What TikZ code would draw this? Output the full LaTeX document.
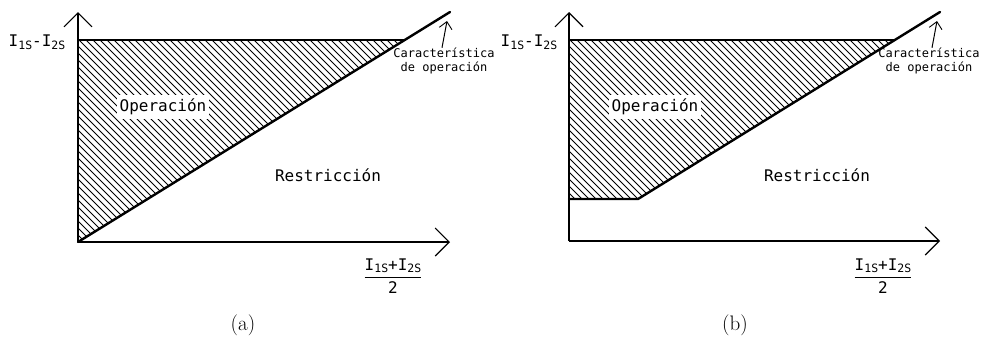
\documentclass[tikz,border=0pt]{standalone}
\usepackage{fontspec}
\usetikzlibrary{arrows.meta}
\newfontfamily\monofont{DejaVu Sans Mono}
\newfontfamily\capfont{Latin Modern Roman}
\newcommand{\sbs}[1]{\raisebox{-2.5pt}{\fontsize{11.5}{11.5}\selectfont #1}}
\tikzset{
  axis/.style={line width=1.3pt, -{Straight Barb[length=14pt,width=28pt,line width=1.1pt]}},
  boundary/.style={line width=2.4pt, line cap=round, line join=round},
  topline/.style={line width=1.3pt},
  hatch/.style={line width=0.85pt},
  lbl/.style={font=\monofont\fontsize{16}{18}\selectfont, inner sep=0pt},
  opbox/.style={font=\monofont\fontsize{16}{18}\selectfont, fill=white, inner xsep=3pt, inner ysep=4pt},
  small/.style={font=\monofont\fontsize{12}{14}\selectfont, align=center, inner sep=0pt},
  pointer/.style={line width=1pt, -{Straight Barb[length=7pt,width=13pt,line width=0.9pt]}},
  captionlbl/.style={font=\capfont\fontsize{21}{24}\selectfont, inner sep=0pt}
}
\begin{document}
\begin{tikzpicture}[x=1pt,y=-1pt]
\useasboundingbox (0,0) rectangle (982,346);
% ---------- panel (a) ----------
\coordinate (Oa) at (78,242);
\coordinate (Ya) at (78,12);
\coordinate (Xa) at (450,242);
\coordinate (Ta) at (78,40);
\coordinate (Ca) at (404.7,40);
\coordinate (Ea) at (450,12);
\begin{scope}
  \clip (Oa) -- (Ta) -- (Ca) -- cycle;
  \foreach \k in {-300,-293,...,400}
    \draw[hatch] (78+\k,40) -- (78+\k+260,300);
\end{scope}
\draw[topline] (Ta) -- (Ca);
\draw[axis] (Oa) -- (Ya);
\draw[axis] (Oa) -- (Xa);
\draw[boundary] (Oa) -- (Ea);
\node[opbox] (opa) at (163,107) {Operación};
\node[lbl] (resa) at (328,175) {Restricción};
\node[small] (cara) at (444,61) {Característica\\de operación};
\coordinate (pa) at (447,21);
\draw[pointer] (cara.north -| 442,0) -- (pa);
\node[lbl] (ya) at (37,42) {I\sbs{1S}-I\sbs{2S}};
\node[lbl] (xa) at (393,276) {$\displaystyle\frac{\mbox{I\sbs{1S}+I\sbs{2S}}}{\mbox{2}}$};
\node[captionlbl] (capa) at (243,325) {(a)};
% ---------- panel (b) ----------
\coordinate (Ob) at (569,241);
\coordinate (Yb) at (569,12);
\coordinate (Xb) at (940,241);
\coordinate (Tb) at (569,40);
\coordinate (Lb) at (569,199);
\coordinate (Kb) at (638,199);
\coordinate (Cb) at (894.7,40);
\coordinate (Eb) at (940,12);
\begin{scope}
  \clip (Lb) -- (Tb) -- (Cb) -- (Kb) -- cycle;
  \foreach \k in {-300,-293,...,400}
    \draw[hatch] (569+\k,40) -- (569+\k+260,300);
\end{scope}
\draw[topline] (Tb) -- (Cb);
\draw[axis] (Ob) -- (Yb);
\draw[axis] (Ob) -- (Xb);
\draw[boundary] (Lb) -- (Kb) -- (Eb);
\node[opbox] (opb) at (655,107) {Operación};
\node[lbl] (resb) at (817,175) {Restricción};
\node[small] (carb) at (929,61) {Característica\\de operación};
\coordinate (pb) at (937,21);
\draw[pointer] (carb.north -| 932,0) -- (pb);
\node[lbl] (yb) at (529,42) {I\sbs{1S}-I\sbs{2S}};
\node[lbl] (xb) at (883,276) {$\displaystyle\frac{\mbox{I\sbs{1S}+I\sbs{2S}}}{\mbox{2}}$};
\node[captionlbl] (capb) at (735,325) {(b)};
\end{tikzpicture}
\end{document}
